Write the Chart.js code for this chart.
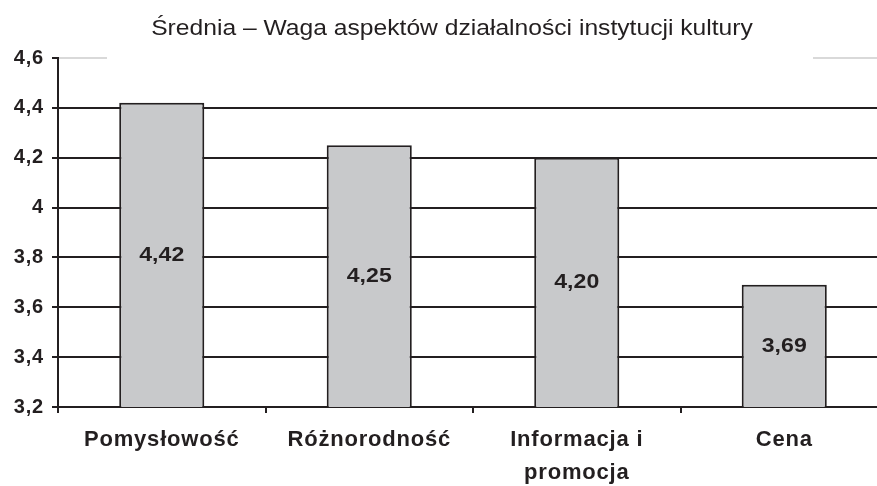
<!DOCTYPE html>
<html>
<head>
<meta charset="utf-8">
<style>
html,body{margin:0;padding:0;background:#fff;overflow:hidden;}
#wrap{width:892px;height:486px;}
</style>
<script src="https://cdn.jsdelivr.net/npm/chart.js@4.4.1/dist/chart.umd.min.js"></script>
</head>
<body>
<div id="wrap"><canvas id="c" width="892" height="486"></canvas></div>
<script>
const titleText = 'Średnia – Waga aspektów działalności instytucji kultury';
const categories = ['Pomysłowość', 'Różnorodność', ['Informacja i', 'promocja'], 'Cena'];
const values = [4.42, 4.25, 4.20, 3.69];
const valueLabels = ['4,42', '4,25', '4,20', '3,69'];
const yTickLabels = ['3,2', '3,4', '3,6', '3,8', '4', '4,2', '4,4', '4,6'];

const INK = '#231f20';
const FONT = "'Liberation Sans', Arial, sans-serif";

const customPlugin = {
  id: 'custom',
  beforeDraw(chart) {
    chart.ctx.letterSpacing = '0.8px';
  },
  beforeDatasetsDraw(chart) {
    const ctx = chart.ctx;
    const y = chart.scales.y.getPixelForValue(4.6);
    ctx.save();
    ctx.fillStyle = '#fff';
    ctx.fillRect(107, y - 4, 706, 8);
    ctx.restore();
  },
  afterDraw(chart) {
    const ctx = chart.ctx;
    const xs = chart.scales.x;
    const ys = chart.scales.y;
    ctx.save();
    ctx.letterSpacing = '0px';
    ctx.fillStyle = INK;
    ctx.textAlign = 'center';
    ctx.textBaseline = 'middle';
    ctx.save();
    ctx.translate(452, 29);
    ctx.scale(1.12, 1);
    ctx.font = "22px " + FONT;
    ctx.fillText(titleText, 0, 0);
    ctx.restore();
    const basePx = ys.getPixelForValue(ys.min);
    for (let i = 0; i < values.length; i++) {
      const cx = xs.getPixelForValue(i);
      const topPx = ys.getPixelForValue(values[i]);
      const cy = (topPx + basePx) / 2;
      ctx.save();
      ctx.translate(cx, cy);
      ctx.scale(1.1, 1);
      ctx.font = "bold 21px " + FONT;
      ctx.fillStyle = INK;
      ctx.fillText(valueLabels[i], 0, 0);
      ctx.restore();
    }
    ctx.restore();
  }
};

new Chart(document.getElementById('c'), {
  type: 'bar',
  data: {
    labels: categories,
    datasets: [{
      data: values,
      backgroundColor: '#c8c9cb',
      borderColor: INK,
      borderWidth: 2,
      borderSkipped: false,
      barPercentage: 0.41,
      categoryPercentage: 1.0
    }]
  },
  options: {
    responsive: false,
    animation: false,
    layout: { padding: { top: 58, left: 0, right: 4, bottom: 0 } },
    plugins: {
      legend: { display: false },
      title: { display: false },
      tooltip: { enabled: false }
    },
    scales: {
      x: {
        offset: true,
        grid: {
          offset: true,
          drawOnChartArea: false,
          drawTicks: true,
          tickLength: 6,
          color: INK,
          lineWidth: 2
        },
        border: { color: INK, width: 2 },
        ticks: {
          color: INK,
          font: { family: FONT, size: 22, weight: 'bold', lineHeight: 1.5 },
          padding: 10,
          maxRotation: 0,
          autoSkip: false
        },
        afterFit(scale) { scale.height = 79; }
      },
      y: {
        min: 3.2,
        max: 4.6,
        ticks: {
          stepSize: 0.2,
          color: INK,
          font: { family: FONT, size: 20, weight: 'bold' },
          padding: 8,
          callback: (v, i) => yTickLabels[i]
        },
        grid: {
          color: (c) => (c.index === yTickLabels.length - 1 ? '#d9d9d9' : INK),
          tickColor: INK,
          lineWidth: 2,
          tickLength: 6
        },
        border: { color: INK, width: 2 },
        afterFit(scale) { scale.width = 58; }
      }
    }
  },
  plugins: [customPlugin]
});
</script>
</body>
</html>
